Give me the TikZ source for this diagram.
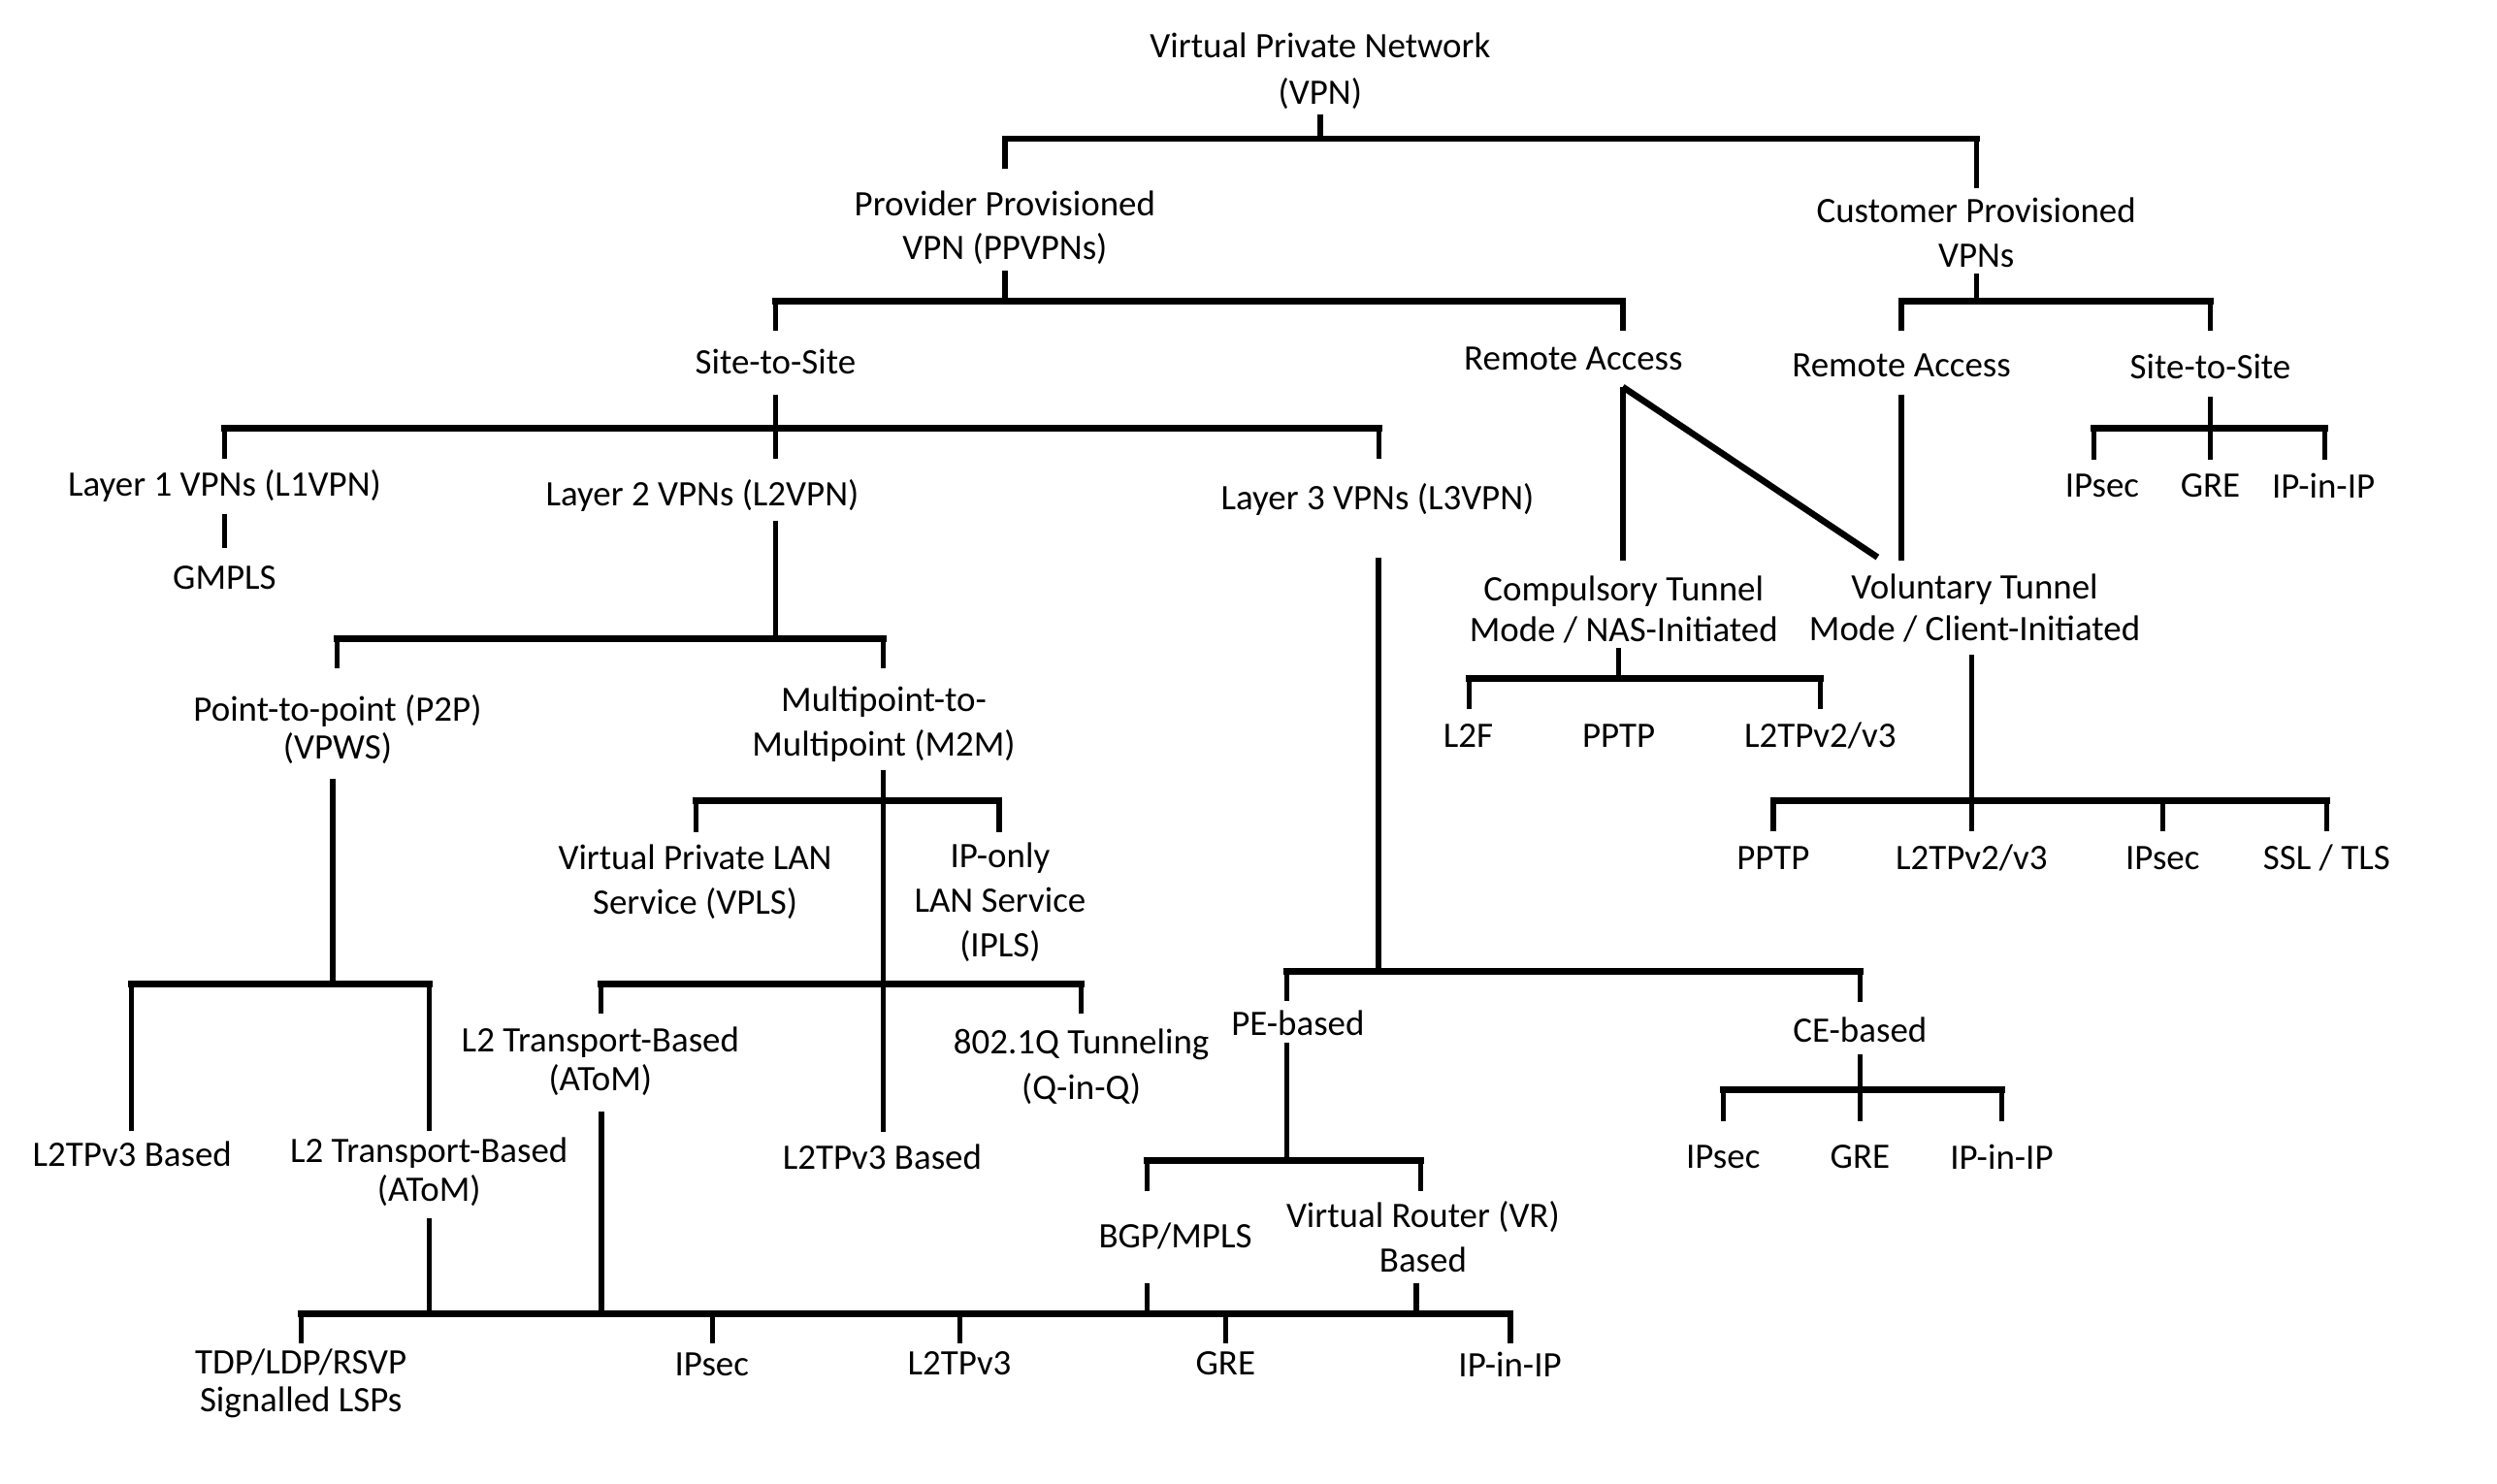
\documentclass[tikz,border=0pt]{standalone}
\usepackage{fontspec}
\setmainfont{Carlito}
\begin{document}
\begin{tikzpicture}[x=1pt,y=-1pt,
  lbl/.style={align=center, inner sep=0pt, anchor=center, font=\fontsize{22.5}{28}\selectfont},
  lblw/.style={lbl, font=\fontsize{22.5}{29}\selectfont},
  lblt/.style={lbl, font=\fontsize{22.5}{24}\selectfont},
  hl/.style={line width=4pt, line cap=rect},
  vl/.style={line width=3.3pt, line cap=butt},
  dl/.style={line width=4pt, line cap=butt}]
\useasboundingbox[fill=white] (0,0) rectangle (1568,932);

% ---------- nodes ----------
\node[lblw] (vpn) at (829,44.5) {Virtual Private Network\\(VPN)};
\node[lbl] (pp) at (631,143) {Provider Provisioned\\VPN (PPVPNs)};
\node[lbl] (cp) at (1241,146) {Customer Provisioned\\VPNs};
\node[lbl] (ss1) at (487,227) {Site-to-Site};
\node[lbl] (ra1) at (988,225.5) {Remote Access};
\node[lbl] (ra2) at (1194,229.5) {Remote Access};
\node[lbl] (ss2) at (1388,230) {Site-to-Site};
\node[lbl] (l1) at (141,305) {Layer 1 VPNs (L1VPN)};
\node[lbl] (l2) at (441,311) {Layer 2 VPNs (L2VPN)};
\node[lbl] (l3) at (865,314) {Layer 3 VPNs (L3VPN)};
\node[lbl] (gmpls) at (141,363) {GMPLS};
\node[lblt] (p2p) at (212,458) {Point-to-point (P2P)\\(VPWS)};
\node[lbl] (m2m) at (555,455) {Multipoint-to-\\Multipoint (M2M)};
\node[lbl] (vpls) at (436.5,554) {Virtual Private LAN\\Service (VPLS)};
\node[lbl] (ipls) at (628,566.5) {IP-only\\LAN Service\\(IPLS)};
\node[lblt] (atomb) at (377,666.5) {L2 Transport-Based\\(AToM)};
\node[lblw] (qinq) at (679,670) {802.1Q Tunneling\\(Q-in-Q)};
\node[lbl] (l2tpa) at (83,725) {L2TPv3 Based};
\node[lblt] (atoma) at (269.4,736) {L2 Transport-Based\\(AToM)};
\node[lbl] (l2tpb) at (554,726.5) {L2TPv3 Based};
\node[lblt] (tdp) at (189,869) {TDP/LDP/RSVP\\Signalled LSPs};
\node[lbl] (ipsecb) at (447,857) {IPsec};
\node[lbl] (l2tpv3) at (602.5,856.5) {L2TPv3};
\node[lbl] (greb) at (769.6,856) {GRE};
\node[lbl] (ipipb) at (948.2,857) {IP-in-IP};
\node[lbl] (pe) at (815,642.5) {PE-based};
\node[lbl] (ce) at (1168,646.7) {CE-based};
\node[lbl] (bgp) at (738,776.5) {BGP/MPLS};
\node[lbl] (vr) at (893.6,777) {Virtual Router (VR)\\Based};
\node[lbl] (ceips) at (1082,726.6) {IPsec};
\node[lbl] (cegre) at (1168,726.6) {GRE};
\node[lbl] (ceipip) at (1257,726.6) {IP-in-IP};
\node[lblt, font=\fontsize{22.5}{25.5}\selectfont] (comp) at (1019.6,383) {Compulsory Tunnel\\Mode / NAS-Initiated};
\node[lblt, font=\fontsize{22.5}{26}\selectfont] (vol) at (1240,382) {Voluntary Tunnel\\Mode / Client-Initiated};
\node[lbl] (l2f) at (922,462) {L2F};
\node[lbl] (pptpa) at (1016.5,462) {PPTP};
\node[lbl] (l2tpva) at (1143,462) {L2TPv2/v3};
\node[lbl] (pptpb) at (1113.5,539) {PPTP};
\node[lbl] (l2tpvb) at (1238,539) {L2TPv2/v3};
\node[lbl] (ipsecc) at (1358,539) {IPsec};
\node[lbl] (ssl) at (1461,539) {SSL / TLS};
\node[lbl] (csips) at (1320,305) {IPsec};
\node[lbl] (csgre) at (1388,305) {GRE};
\node[lbl] (csipip) at (1459,305) {IP-in-IP};

% ---------- connectors ----------
% VPN
\draw[vl] (829,72) -- (829,87);
\draw[hl] (631,87) -- (1241,87);
\draw[vl] (631,87) -- (631,106);
\draw[vl] (1241,87) -- (1241,118);
% PPVPN
\draw[vl] (631,170) -- (631,189);
\draw[hl] (487,189) -- (1019,189);
\draw[vl] (487,189) -- (487,208);
\draw[vl] (1019,189) -- (1019,208);
% CP VPN
\draw[vl] (1241,172) -- (1241,189);
\draw[hl] (1194,189) -- (1388,189);
\draw[vl] (1194,189) -- (1194,208);
\draw[vl] (1388,189) -- (1388,208);
% Site-to-site (PP)
\draw[vl] (487,248) -- (487,288);
\draw[hl] (141,269) -- (866,269);
\draw[vl] (141,269) -- (141,288);
\draw[vl] (866,269) -- (866,288);
% L1
\draw[vl] (141,323) -- (141,344);
% L2
\draw[vl] (487,327) -- (487,401);
\draw[hl] (211.6,401) -- (554.5,401);
\draw[vl] (211.6,401) -- (211.6,419.5);
\draw[vl] (554.5,401) -- (554.5,419.5);
% P2P
\draw[vl] (209,489) -- (209,618);
\draw[hl] (82.5,618) -- (269.4,618);
\draw[vl] (82.5,618) -- (82.5,710);
\draw[vl] (269.4,618) -- (269.4,710);
\draw[vl] (269.4,765) -- (269.4,825);
% M2M
\draw[vl] (554.5,483.5) -- (554.5,711);
\draw[hl] (437,503) -- (627.5,503);
\draw[vl] (437,503) -- (437,522.5);
\draw[vl] (627.5,503) -- (627.5,522.5);
\draw[hl] (377.5,618) -- (679,618);
\draw[vl] (377.5,618) -- (377.5,636.5);
\draw[vl] (679,618) -- (679,636.5);
\draw[vl] (377.7,698) -- (377.7,825);
% bottom bus
\draw[hl] (189,825) -- (948.5,825);
\draw[vl] (189,825) -- (189,843.7);
\draw[vl] (447.6,825) -- (447.6,843.7);
\draw[vl] (602.6,825) -- (602.6,843.7);
\draw[vl] (769.6,825) -- (769.6,843.7);
\draw[vl] (948.5,825) -- (948.5,843.7);
% L3
\draw[vl] (865.5,350) -- (865.5,610);
\draw[hl] (808,610) -- (1168,610);
\draw[vl] (808,610) -- (808,628.7);
\draw[vl] (1168,610) -- (1168,629.5);
% PE
\draw[vl] (808,655) -- (808,729);
\draw[hl] (720.5,729) -- (892,729);
\draw[vl] (720.5,729) -- (720.5,748);
\draw[vl] (892,729) -- (892,748);
\draw[vl] (720.5,806) -- (720.5,825);
\draw[vl] (889.5,806) -- (889.5,825);
% CE
\draw[vl] (1168,662) -- (1168,704);
\draw[hl] (1082,684.5) -- (1257,684.5);
\draw[vl] (1082,684.5) -- (1082,704);
\draw[vl] (1257,684.5) -- (1257,704);
% Remote access (PP)
\draw[vl] (1019,243) -- (1019,352);
\draw[dl] (1019,243) -- (1179,350);
% Remote access (CP)
\draw[vl] (1194,248) -- (1194,352);
% Compulsory
\draw[vl] (1016.5,407) -- (1016.5,426);
\draw[hl] (922.6,426) -- (1143,426);
\draw[vl] (922.6,426) -- (922.6,445);
\draw[vl] (1143,426) -- (1143,445);
% Voluntary
\draw[vl] (1238,411) -- (1238,522);
\draw[hl] (1113.5,503) -- (1461,503);
\draw[vl] (1113.5,503) -- (1113.5,522);
\draw[vl] (1358,503) -- (1358,522);
\draw[vl] (1461,503) -- (1461,522);
% Site-to-site (CP)
\draw[vl] (1388,249) -- (1388,289);
\draw[hl] (1315,269) -- (1460,269);
\draw[vl] (1315,269) -- (1315,289);
\draw[vl] (1460,269) -- (1460,289);
\end{tikzpicture}
\end{document}
